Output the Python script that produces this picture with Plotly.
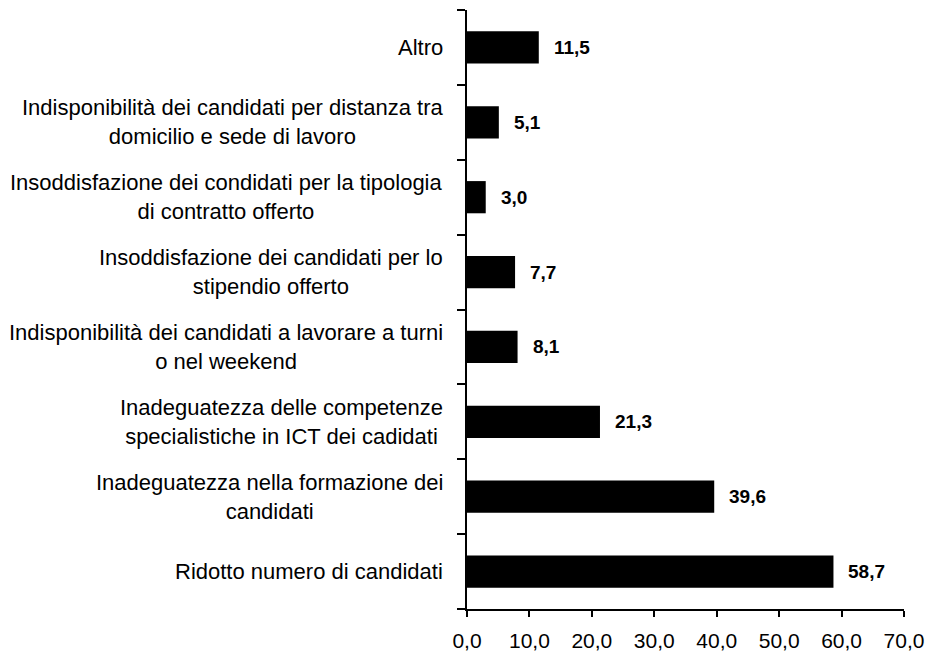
import plotly.graph_objects as go

categories = [
    "Ridotto numero di candidati",
    "Inadeguatezza nella formazione dei<br>candidati",
    "Inadeguatezza delle competenze<br>specialistiche in ICT dei cadidati",
    "Indisponibilità dei candidati a lavorare a turni<br>o nel weekend",
    "Insoddisfazione dei candidati per lo<br>stipendio offerto",
    "Insoddisfazione dei condidati per la tipologia<br>di contratto offerto",
    "Indisponibilità dei candidati per distanza tra<br>domicilio e sede di lavoro",
    "Altro",
]
values = [58.7, 39.6, 21.3, 8.1, 7.7, 3.0, 5.1, 11.5]
x_ticks = [0, 10, 20, 30, 40, 50, 60, 70]

FONT = "Liberation Sans, Arial, sans-serif"

fig = go.Figure(
    go.Bar(
        y=categories,
        x=values,
        orientation="h",
        marker=dict(color="black", line=dict(width=0)),
        width=0.43,
        hoverinfo="x+y",
    )
)

# category labels (centered multi-line) and value labels
for c, v in zip(categories, values):
    fig.add_annotation(
        x=-0.05, xref="paper", y=c, yref="y",
        text=c, showarrow=False, xanchor="right", yanchor="middle",
        align="center", font=dict(family=FONT, size=22, color="black"),
    )
    fig.add_annotation(
        x=v, xref="x", y=c, yref="y",
        text="<b>" + f"{v:.1f}".replace(".", ",") + "</b>",
        showarrow=False, xanchor="left", yanchor="middle", xshift=13,
        font=dict(family=FONT, size=19, color="black"),
    )

# page body has an 8px default margin: figure is sized to fill the rest
fig.update_layout(
    width=925, height=644,
    margin=dict(l=459, r=29, t=2, b=43),
    paper_bgcolor="white", plot_bgcolor="white",
    separators=",.",
    showlegend=False,
    font=dict(family=FONT, size=20, color="black"),
)
fig.update_xaxes(
    range=[0, 70], tickvals=x_ticks, tickformat=".1f",
    showgrid=False, zeroline=False, automargin=False,
    showline=True, linecolor="black", linewidth=1.5,
    ticks="outside", ticklen=6, tickwidth=1.5, tickcolor="black",
    ticklabelstandoff=6,
    tickfont=dict(family=FONT, size=21, color="black"),
)
fig.update_yaxes(
    type="category", categoryorder="array", categoryarray=categories,
    showticklabels=False, tickson="boundaries", automargin=False,
    showgrid=False, zeroline=False,
    showline=True, linecolor="black", linewidth=1.5,
    ticks="outside", ticklen=8, tickwidth=1.5, tickcolor="black",
)

fig.write_html("out.html")
